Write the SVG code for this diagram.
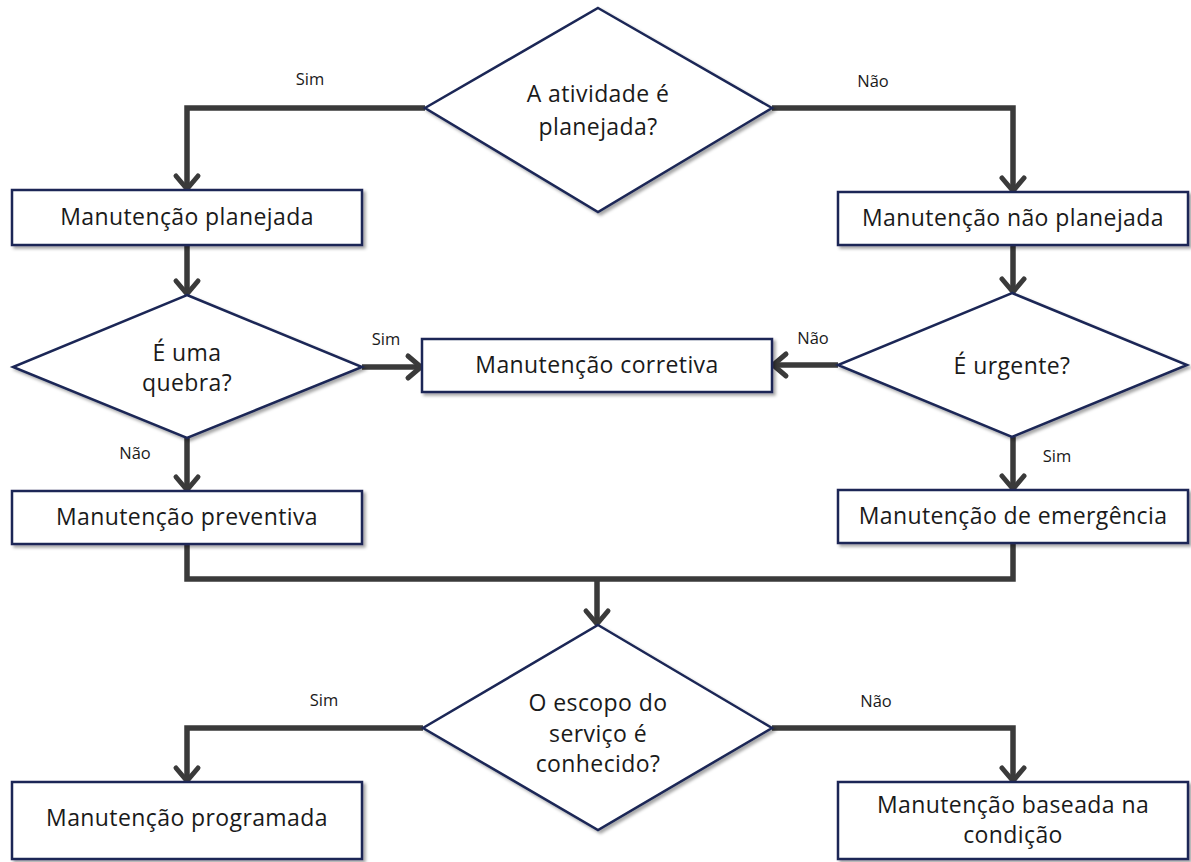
<svg xmlns="http://www.w3.org/2000/svg" width="1191" height="862" viewBox="0 0 1191 862">
  <defs>
    <filter id="shadow" x="-5%" y="-10%" width="115%" height="130%">
      <feDropShadow dx="2.5" dy="2.5" stdDeviation="1.5" flood-color="#000" flood-opacity="0.35"/>
    </filter>
    <marker id="chev" markerUnits="userSpaceOnUse" markerWidth="30" markerHeight="30" viewBox="-20 -15 24 30" refX="0" refY="0" orient="auto">
      <path d="M-13,-11 L0,0 L-13,11" fill="none" stroke="#3a3a3a" stroke-width="5" stroke-linecap="round" stroke-linejoin="miter"/>
    </marker>
  </defs>
  <style>
    .shape { fill: #ffffff; stroke: #1b2856; stroke-width: 2.5; filter: url(#shadow); }
    .node-text { font-family: "Open Sans", Lato, sans-serif; font-size: 23px; letter-spacing: 0.4px; fill: #1a1a1a; text-anchor: middle; dominant-baseline: central; }
    .edge { fill: none; stroke: #3a3a3a; stroke-width: 5.5; stroke-linejoin: miter; }
    .arrow { marker-end: url(#chev); }
    .label { font-family: "Open Sans", Lato, sans-serif; font-size: 16.5px; fill: #1a1a1a; text-anchor: middle; dominant-baseline: central; }
  </style>
  <rect width="1191" height="862" fill="#ffffff"/>

  <!-- connectors -->
  <g id="connectors">
    <path class="edge arrow" d="M425,108 H187 V189"/>
    <path class="edge arrow" d="M772,108 H1013 V191"/>
    <path class="edge arrow" d="M187,245 V294"/>
    <path class="edge arrow" d="M1013,245 V292"/>
    <path class="edge arrow" d="M362,367 H421"/>
    <path class="edge arrow" d="M838,365 H773"/>
    <path class="edge arrow" d="M187,438 V490"/>
    <path class="edge arrow" d="M1013,437 V489"/>
    <path class="edge" d="M187,544 V579 H1013 V543"/>
    <path class="edge arrow" d="M597,579 V624"/>
    <path class="edge arrow" d="M423,728 H187 V781"/>
    <path class="edge arrow" d="M772,728 H1013 V781"/>
    <text class="label" x="310" y="78">Sim</text>
    <text class="label" x="873" y="80">Não</text>
    <text class="label" x="386" y="338">Sim</text>
    <text class="label" x="135" y="452">Não</text>
    <text class="label" x="813" y="337">Não</text>
    <text class="label" x="1057" y="455">Sim</text>
    <text class="label" x="324" y="699">Sim</text>
    <text class="label" x="876" y="700">Não</text>
  </g>

  <!-- decisions -->
  <g id="d-planejada">
    <polygon class="shape" points="598,8 772,108 598,212 425,108"/>
    <text class="node-text" x="598" y="93">A atividade é</text>
    <text class="node-text" x="598" y="126">planejada?</text>
  </g>
  <g id="d-quebra">
    <polygon class="shape" points="187,295 362,367 187,438 13,367"/>
    <text class="node-text" x="187" y="352">É uma</text>
    <text class="node-text" x="187" y="382">quebra?</text>
  </g>
  <g id="d-urgente">
    <polygon class="shape" points="1012,293 1187,365 1012,437 838,365"/>
    <text class="node-text" x="1012" y="365">É urgente?</text>
  </g>
  <g id="d-escopo">
    <polygon class="shape" points="598,625 772,728 598,830 423,728"/>
    <text class="node-text" x="598" y="702">O escopo do</text>
    <text class="node-text" x="598" y="733">serviço é</text>
    <text class="node-text" x="598" y="763">conhecido?</text>
  </g>

  <!-- process boxes -->
  <g id="b-planejada">
    <rect class="shape" x="12" y="190" width="350" height="55"/>
    <text class="node-text" x="187" y="216">Manutenção planejada</text>
  </g>
  <g id="b-nao-planejada">
    <rect class="shape" x="838" y="192" width="350" height="53"/>
    <text class="node-text" x="1013" y="217">Manutenção não planejada</text>
  </g>
  <g id="b-corretiva">
    <rect class="shape" x="422" y="339" width="350" height="53"/>
    <text class="node-text" x="597" y="364">Manutenção corretiva</text>
  </g>
  <g id="b-preventiva">
    <rect class="shape" x="12" y="491" width="350" height="53"/>
    <text class="node-text" x="187" y="516">Manutenção preventiva</text>
  </g>
  <g id="b-emergencia">
    <rect class="shape" x="838" y="490" width="350" height="53"/>
    <text class="node-text" x="1013" y="515">Manutenção de emergência</text>
  </g>
  <g id="b-programada">
    <rect class="shape" x="12" y="782" width="350" height="77"/>
    <text class="node-text" x="187" y="817">Manutenção programada</text>
  </g>
  <g id="b-condicao">
    <rect class="shape" x="838" y="782" width="350" height="77"/>
    <text class="node-text" x="1013" y="804">Manutenção baseada na</text>
    <text class="node-text" x="1013" y="834">condição</text>
  </g>
</svg>
